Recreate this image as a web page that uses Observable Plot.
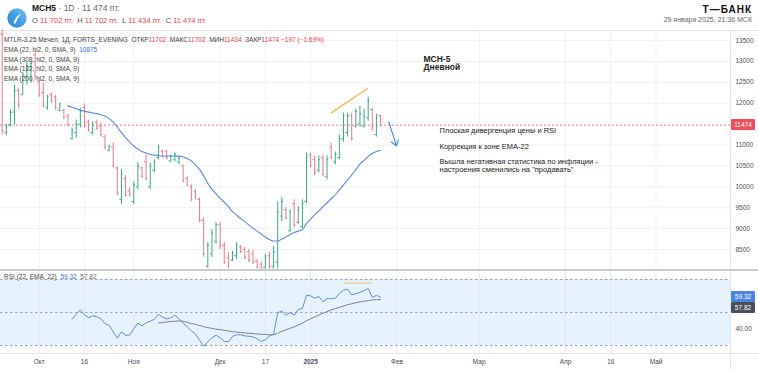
<!DOCTYPE html>
<html><head><meta charset="utf-8">
<script src="https://cdn.jsdelivr.net/npm/d3@7"></script>
<script src="https://cdn.jsdelivr.net/npm/@observablehq/plot@0.6"></script>
<style>
body{margin:0;background:#fff;}
#root{position:relative;width:758px;height:369px;overflow:hidden;font-family:'Liberation Sans',Arial,sans-serif;color:#333;}
.abs{position:absolute;white-space:nowrap;}
.line{position:absolute;background:#e0e3eb;}
.box{position:absolute;color:#fff;font-size:6.5px;text-align:center;border-radius:1px;}
.red{color:#e0454f}.blue{color:#3f6fd8}.gray{color:#777}
</style></head><body><div id="root"></div>
<script>
// ---- data ----
const opens  = [13650,11300,11480,11790,12300,12200,12650,12880,13150,12500,12250,11900,12200,12150,11830,11830,11700,11150,11300,11500,11900,11550,11300,11550,11450,11200,10870,10950,10450,9700,10200,9900,9650,10000,10450,10600,10000,10400,10700,10850,10850,10620,10650,10600,10500,10200,10000,9900,9700,9200,8100,8400,8700,9100,8600,8300,8250,8350,8560,8500,8450,8400,8220,8150,8080,8350,8100,8200,9300,9450,8950,9600,9150,9050,9650,10750,10650,10400,10700,10250,10950,10600,10700,11150,11300,11700,11450,11500,11450,11650,11850,11250,11702];
const highs  = [13750,11500,11833,12430,12357,12740,12976,13000,13262,12548,12476,12190,12238,12190,12000,11857,11738,11405,11595,11881,11976,11595,11548,11595,11524,11238,11000,11048,10476,10405,10262,9976,10119,10571,10476,10762,10571,10643,11000,10881,10881,10762,10810,10714,10524,10238,10048,9929,9738,9262,8667,8976,9143,9143,8667,8429,8452,8667,8595,8548,8500,8476,8262,8190,8381,8429,8571,9643,9738,9500,9452,9690,9524,9690,10810,10810,10738,10738,10762,10738,11048,10833,11238,11762,11762,11762,11857,11929,11857,12143,11881,11738,11702];
const lows   = [11240,11214,11429,11476,11881,12190,12430,12480,12548,12143,11881,11833,12000,11833,11786,11619,11429,11119,11167,11405,11405,11310,11238,11357,11190,10881,10833,10452,9786,9571,9762,9762,9571,9929,10214,10143,9929,10333,10643,10690,10643,10571,10595,10524,10095,10000,9643,9690,9143,8310,8050,8310,8619,8500,8143,8040,8214,8262,8405,8262,8190,8143,8040,8030,8030,8030,8030,8030,9167,9214,8905,9024,9095,9000,9595,10452,10262,10333,10238,10167,10643,10524,10643,11071,11190,11095,11405,11429,11405,11571,11333,11190,11434];
const closes = [11350,11450,11780,12300,11950,12680,12900,12950,12650,12200,11950,12150,12050,11880,11980,11650,11480,11350,11500,11800,11450,11350,11480,11400,11250,10950,10960,10500,9850,10300,9800,9800,10050,10500,10250,10200,10500,10600,10950,10720,10700,10730,10780,10690,10150,10050,9700,9720,9200,8400,8600,8900,9100,8600,8200,8100,8400,8600,8450,8300,8250,8200,8080,8060,8300,8100,8450,9400,9650,9250,9400,9100,9450,9600,10700,10500,10350,10650,10300,10650,10700,10780,11150,11700,11700,11150,11800,11750,11700,12050,11450,11650,11474];

const emaStart = 16;
const ema22 = [11936,11905,11869,11833,11809,11786,11767,11750,11726,11690,11631,11548,11429,11298,11179,11071,10976,10905,10845,10809,10774,10757,10745,10738,10738,10738,10738,10733,10714,10679,10619,10524,10417,10262,10083,9940,9833,9726,9631,9524,9405,9321,9238,9167,9083,9012,8940,8869,8798,8738,8702,8702,8750,8798,8857,8905,8940,8976,9119,9226,9333,9417,9524,9619,9714,9810,9929,10048,10167,10286,10417,10548,10631,10726,10798,10845,10875];

const rsiStart = 17;
const rsi = [46.0,48.9,51.6,48.6,46.8,48.0,47.4,46.2,43.2,42.2,38.3,34.5,38.3,36.2,36.3,40.1,43.6,41.9,43.8,44.7,45.9,49.0,47.1,46.2,46.8,48.3,46.2,43.5,41.3,38.9,36.9,33.2,29.4,32.2,34.7,36.2,34.7,32.5,32.2,35.5,36.5,36.5,35.8,35.6,35.2,34.1,32.4,33.5,35.7,36.9,49.8,51.0,48.3,50.0,48.4,51.9,52.4,60.5,60.1,58.6,59.7,56.5,58.5,58.3,58.6,61.6,63.5,64.1,60.7,61.3,62.2,63.2,64.5,59.2,60.4,59.32];

const rsiMaStart = 38;
const rsiMa = [43.6,43.9,44.2,44.5,44.7,44.9,44.7,44.1,43.3,42.8,42.1,41.4,40.8,40.4,39.9,39.6,39.2,38.8,38.4,38.1,37.9,37.6,37.4,37.2,37.0,36.8,36.7,36.5,36.5,37.4,38.6,39.5,40.4,41.3,42.4,43.5,45.0,46.2,47.3,48.4,49.5,50.5,51.5,52.4,53.2,53.9,54.7,55.3,55.9,56.4,56.8,57.2,57.6,57.8,57.82];

const tickIndex  = [9,20,32,53,64,75,96,116,137,148,159];
const tickLabels = ["Окт","16","Ноя","Дек","17","2025","Фев","Мар","Апр","16","Май"];
const priceTicks = [8500,9000,9500,10000,10500,11000,11500,12000,12500,13000,13500];
const rsiLevels  = [30,50,70];
const rsiTicks   = [40];

// annotations (data coordinates: bar index, price / RSI)
const divergence    = [{x1:79.8, y1:11755, x2:89.0, y2:12364}];
const rsiDivergence = [{x1:83, y1:67.8, x2:90, y2:67.8}];
const arrowPts      = [{x1:94.0, y1:11555, x2:95.9, y2:10976}];
const titleText = ["МСН-5","Дневной"];
const titleY    = [13060,12857];
const titleX    = 102.45;
const noteText  = ["Плоская дивергенция цены и RSI","Коррекция к зоне EMA-22","Вышла негативная статистика по инфляции -","настроения сменились на \"продавать\""];
const noteY     = [11333,10952,10595,10405];
const noteX     = 106.35;

// ---- drawing ----
const FONT = "'Liberation Sans', Arial, sans-serif";
const G = "#3aa888", R = "#e57a86";
const xDomain = [-0.4134, 177.11];
const root = document.getElementById("root");

const bars = opens.map((o,i)=>({i, o, h:highs[i], l:lows[i], c:closes[i]}));
const upBars = bars.filter(d=>d.c>=d.o), downBars = bars.filter(d=>d.c<d.o);
function barMarks(data, color){
  return [
    Plot.ruleX(data,{x:"i",y1:"l",y2:"h",stroke:color,strokeWidth:1}),
    Plot.ruleY(data,{y:"o",x1:d=>d.i-0.4,x2:"i",stroke:color}),
    Plot.ruleY(data,{y:"c",x1:"i",x2:d=>d.i+0.4,stroke:color})
  ];
}
const emaData = ema22.map((v,k)=>({i:k+emaStart,v}));
const rsiData = rsi.map((v,k)=>({i:k+rsiStart,v}));
const rsiMaData = rsiMa.map((v,k)=>({i:k+rsiMaStart,v}));
const lastClose = closes[closes.length-1];

const main = Plot.plot({
  width:758, height:239, marginTop:0, marginRight:28, marginBottom:0, marginLeft:0,
  x:{domain:xDomain, axis:null},
  y:{domain:[8022,13739], axis:null},
  style:{background:"transparent", fontFamily:FONT, fontSize:"6.5px", color:"#4a4e59", overflow:"visible"},
  marks:[
    Plot.ruleX(tickIndex,{stroke:"#eef1f6"}),
    Plot.ruleY(priceTicks,{stroke:"#eef1f6"}),
    Plot.axisY(priceTicks,{anchor:"right",tickSize:0,tickPadding:5,tickFormat:d=>String(d),fill:"#4a4e59"}),
    Plot.ruleY([lastClose],{stroke:"#ee6670",strokeDasharray:"2 2",strokeWidth:0.8}),
    ...barMarks(upBars,G), ...barMarks(downBars,R),
    Plot.line(emaData,{x:"i",y:"v",stroke:"#6088d8",strokeWidth:1.1,curve:"monotone-x"}),
    Plot.link(divergence,{x1:"x1",y1:"y1",x2:"x2",y2:"y2",stroke:"#f4b14c",strokeWidth:1.2}),
    Plot.arrow(arrowPts,{x1:"x1",y1:"y1",x2:"x2",y2:"y2",stroke:"#4a86e0",strokeWidth:1.1,headLength:9,headAngle:70}),
    Plot.text(titleText,{x:()=>titleX,y:(d,k)=>titleY[k],text:d=>d,textAnchor:"start",fontWeight:"bold",fontSize:8.5,fill:"#222"}),
    Plot.text(noteText,{x:()=>noteX,y:(d,k)=>noteY[k],text:d=>d,textAnchor:"start",fontSize:7.5,fill:"#222"})
  ]
});
main.style.position="absolute"; main.style.left="0px"; main.style.top="30px";

const rsiPlot = Plot.plot({
  width:758, height:99, marginTop:0, marginRight:28, marginBottom:16, marginLeft:0,
  x:{domain:xDomain, axis:null},
  y:{domain:[25.15,75.45], axis:null},
  style:{background:"transparent", fontFamily:FONT, fontSize:"6.5px", color:"#4a4e59", overflow:"visible"},
  marks:[
    Plot.rect([{x1:xDomain[0],x2:xDomain[1],y1:rsiLevels[0],y2:rsiLevels[2]}],{x1:"x1",x2:"x2",y1:"y1",y2:"y2",fill:"#e6f3fd"}),
    Plot.ruleX(tickIndex,{stroke:"#e4e8ef"}),
    Plot.ruleY(rsiLevels,{stroke:"#9ea3ad",strokeDasharray:"2.5 2.5"}),
    Plot.line(rsiMaData,{x:"i",y:"v",stroke:"#7d808a",strokeWidth:1}),
    Plot.line(rsiData,{x:"i",y:"v",stroke:"#5b8fd8",strokeWidth:1}),
    Plot.link(rsiDivergence,{x1:"x1",y1:"y1",x2:"x2",y2:"y2",stroke:"#eec685",strokeWidth:1.2}),
    Plot.axisY(rsiTicks,{anchor:"right",tickSize:0,tickPadding:5,tickFormat:d=>d.toFixed(2),fill:"#4a4e59"}),
    Plot.axisX(tickIndex,{anchor:"bottom",tickSize:0,tickPadding:6,tickFormat:d=>tickLabels[tickIndex.indexOf(d)],fill:"#4a4e59"})
  ]
});
rsiPlot.style.position="absolute"; rsiPlot.style.left="0px"; rsiPlot.style.top="270px";
d3.select(rsiPlot).selectAll("text").filter(function(){return this.textContent==="2025";}).attr("font-weight","bold");

// frame lines
function line(l,t,w,h,c){const e=document.createElement("div");e.className="line";e.style.cssText+=`left:${l}px;top:${t}px;width:${w}px;height:${h}px;`+(c?`background:${c};`:"");root.appendChild(e);}
line(0,30,758,1);
line(730,30,1,339);
line(0,353,758,1);
root.appendChild(main);
root.appendChild(rsiPlot);
line(0,268.5,758,2,"#c8cad0");

function html(l,t,fs,inner,extra){const e=document.createElement("div");e.className="abs";e.style.cssText+=`left:${l}px;top:${t-fs/2}px;font-size:${fs}px;line-height:${fs}px;`+(extra||"");e.innerHTML=inner;root.appendChild(e);return e;}

// header
const logo=document.createElement("div");logo.className="abs";logo.style.cssText="left:7px;top:8px;";
logo.innerHTML=`<svg width="20" height="20" viewBox="0 0 20 20"><defs><linearGradient id="lg" x1="0" y1="1" x2="1" y2="0"><stop offset="0" stop-color="#1f7fd9"/><stop offset="1" stop-color="#6fc0f2"/></linearGradient></defs><circle cx="10" cy="10" r="9.7" fill="url(#lg)"/><path d="M6.5,15.5 Q8,8 15,5.5 Q10.5,9 8.6,15.5 Z" fill="#fff"/></svg>`;
root.appendChild(logo);
html(32,8.5,8.5,`<b style="color:#131722">MCH5</b><span style="color:#666"> · 1D · 11 474 пт.</span>`);
html(32,20.5,7.5,`<span style="color:#555">O</span> <span class="red">11 702 пт.</span>&nbsp; <span style="color:#555">H</span> <span class="red">11 702 пт.</span>&nbsp; <span style="color:#555">L</span> <span class="red">11 434 пт.</span>&nbsp; <span style="color:#555">C</span> <span class="red">11 474 пт.</span>`);
html(0,9.5,10,`Т—БАНК`,"left:auto;right:6px;font-weight:900;letter-spacing:1px;color:#111;");
html(0,19.5,7,`29 января 2025, 21:36 МСК`,"left:auto;right:6px;color:#666;");

// legends
html(4,40.5,6.5,`<span style="color:#444">MTLR-3.25 Мечел, 1Д, FORTS_EVENING&nbsp; ОТКР</span><span class="red">11702</span>&nbsp; <span style="color:#444">МАКС</span><span class="red">11702</span>&nbsp; <span style="color:#444">МИН</span><span class="red">11434</span>&nbsp; <span style="color:#444">ЗАКР</span><span class="red">11474</span> <span class="red">−197 (−1.69%)</span>`);
html(4,50,6.5,`<span style="color:#444">EMA (22, hl2, 0, SMA, 9)</span>&nbsp; <span class="blue">10875</span>`);
html(4,60,6.5,`<span style="color:#444">EMA (308, hl2, 0, SMA, 9)</span>`);
html(4,69.5,6.5,`<span style="color:#444">EMA (132, hl2, 0, SMA, 9)</span>`);
html(4,79,6.5,`<span style="color:#444">EMA (200, hl2, 0, SMA, 9)</span>`);
html(4,277.5,6.5,`<span style="color:#444">RSI (22, EMA, 22)</span>&nbsp; <span class="blue">59.32</span>&nbsp; <span style="color:#666">57.82</span>`);

// value boxes on axes, placed through the scales
function box(yAbs,label,bg){const e=document.createElement("div");e.className="box";e.style.cssText+=`left:731px;top:${yAbs-5.5}px;width:24px;height:11px;line-height:11px;background:${bg};`;e.textContent=label;root.appendChild(e);}
box(30+main.scale("y").apply(lastClose), String(lastClose), "#ec4e5a");
const rsiLast = rsi[rsi.length-1], rsiMaLast = rsiMa[rsiMa.length-1];
const yr1 = 270+rsiPlot.scale("y").apply(rsiLast);
box(yr1, rsiLast.toFixed(2), "#4c85de");
box(Math.max(yr1+10.5, 270+rsiPlot.scale("y").apply(rsiMaLast)), rsiMaLast.toFixed(2), "#4a4e59");
</script></body></html>
